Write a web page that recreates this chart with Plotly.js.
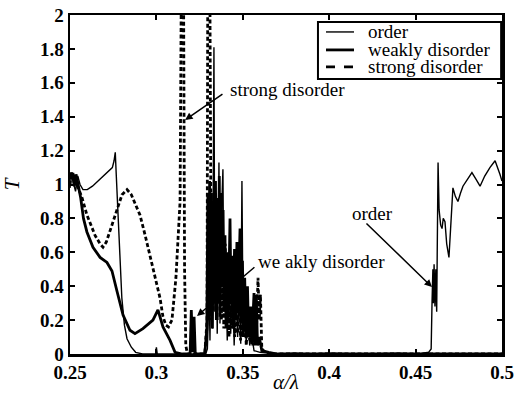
<!DOCTYPE html>
<html><head><meta charset="utf-8">
<script src="https://cdn.plot.ly/plotly-3.0.1.min.js"></script>
<style>html,body{margin:0;padding:0;background:#fff}</style>
</head><body><div id="chart" style="width:518px;height:394px"></div>
<script>
const orderX = [0.25,0.251,0.252,0.2532,0.2545,0.2558,0.2575,0.26,0.263,0.266,0.269,0.272,0.2745,0.2755,0.2762,0.2768,0.2778,0.279,0.28,0.2815,0.283,0.2855,0.288,0.292,0.2995,0.3,0.3005,0.32,0.3285,0.3295,0.3305,0.331,0.3318,0.3325,0.3333,0.3338,0.3345,0.3352,0.3362,0.3368,0.3376,0.3385,0.3391,0.34,0.341,0.342,0.343,0.344,0.345,0.346,0.347,0.348,0.3488,0.3495,0.3502,0.351,0.352,0.353,0.354,0.355,0.3565,0.36,0.37,0.38,0.39,0.4,0.42,0.44,0.452,0.4575,0.459,0.4595,0.46,0.4603,0.4607,0.4612,0.4617,0.4622,0.463,0.4636,0.4645,0.4653,0.466,0.467,0.468,0.4693,0.4705,0.4716,0.473,0.4745,0.476,0.4774,0.48,0.4826,0.485,0.4873,0.49,0.493,0.496,0.4975,0.4988,0.5];
const orderY = [0.98,1.06,1.01,0.96,1.05,1.0,0.97,0.97,0.99,1.02,1.05,1.08,1.1,1.14,1.19,1.05,0.82,0.55,0.33,0.17,0.09,0.04,0.01,0,0,0.04,0,0,0,0.03,0.4,0.08,0.75,0.15,1.81,0.25,0.95,0.12,1.13,0.18,0.8,1.09,0.25,0.62,0.08,0.48,0.12,0.52,0.05,0.38,0.1,0.42,0.06,1.02,0.1,0.3,0.07,0.22,0.05,0.12,0.02,0.01,0,0.005,0,0.005,0,0.005,0,0.01,0.03,0.3,0.5,0.3,0.53,0.28,0.5,0.25,1.13,0.85,0.76,0.74,0.8,0.78,0.65,0.57,0.8,0.98,0.93,0.9,0.95,0.99,1.03,1.07,1.03,0.99,1.05,1.1,1.14,1.1,1.06,1.02];

const weakX = [0.25,0.2508,0.2517,0.2525,0.2535,0.2548,0.2562,0.2578,0.2598,0.2633,0.2674,0.2714,0.2743,0.2772,0.2807,0.2847,0.2876,0.2922,0.298,0.3009,0.3038,0.3079,0.3108,0.315,0.3195,0.3202,0.321,0.3218,0.3225,0.328,0.3292,0.3298,0.3303,0.3308,0.3313,0.3319,0.3324,0.333,0.3336,0.3342,0.3347,0.3353,0.3358,0.3364,0.3369,0.3375,0.338,0.3386,0.3391,0.3397,0.3403,0.341,0.3416,0.3426,0.3432,0.3438,0.3445,0.3452,0.3458,0.3466,0.3472,0.3484,0.349,0.3498,0.3504,0.3511,0.3518,0.3527,0.3534,0.3545,0.3552,0.3565,0.357,0.3578,0.3585,0.3595,0.361,0.365,0.37,0.5];
const weakY = [1.03,1.07,1.05,0.99,1.06,1.0,0.92,0.8,0.72,0.63,0.57,0.54,0.49,0.37,0.23,0.14,0.12,0.15,0.2,0.26,0.16,0.08,0.01,0,0,0.26,0.01,0.22,0,0,0.15,0.95,0.2,1.02,0.35,0.95,0.15,0.9,0.3,1.02,0.2,0.92,0.3,1.05,0.22,0.95,0.4,0.85,0.25,0.7,0.15,0.6,0.2,0.8,0.3,0.58,0.15,0.62,0.2,0.66,0.25,0.74,0.2,0.55,0.15,0.45,0.1,0.4,0.1,0.28,0.06,0.36,0.05,0.35,0.05,0.1,0.02,0.01,0,0];

const strongX = [0.25,0.2505,0.2515,0.253,0.255,0.257,0.2598,0.262,0.2645,0.2674,0.2691,0.271,0.2735,0.276,0.278,0.2801,0.283,0.2855,0.288,0.2905,0.2935,0.2963,0.2992,0.3021,0.3038,0.3055,0.307,0.309,0.3113,0.3137,0.3146,0.3156,0.3163,0.317,0.318,0.328,0.3293,0.3298,0.3308,0.3313,0.3318,0.3323,0.3328,0.3335,0.334,0.3346,0.3352,0.3358,0.3364,0.337,0.3376,0.3383,0.339,0.3398,0.3405,0.3413,0.342,0.343,0.3437,0.3446,0.3453,0.3462,0.347,0.348,0.3487,0.3495,0.3503,0.3512,0.352,0.3532,0.354,0.355,0.3558,0.3568,0.3578,0.3588,0.3595,0.3602,0.361,0.364,0.5];
const strongY = [1.0,1.06,1.07,1.03,0.98,0.92,0.82,0.76,0.7,0.65,0.63,0.66,0.74,0.82,0.88,0.94,0.97,0.94,0.88,0.82,0.7,0.58,0.45,0.33,0.22,0.17,0.16,0.2,0.45,0.9,2.5,2.5,0.5,0.05,0,0,0.2,2.5,2.5,0.6,0.2,0.85,0.25,0.9,0.35,0.8,0.2,0.75,0.3,0.85,0.2,0.7,0.15,0.65,0.2,0.55,0.1,0.5,0.15,0.45,0.1,0.5,0.12,0.4,0.08,0.35,0.1,0.3,0.05,0.25,0.08,0.2,0.05,0.22,0.1,0.45,0.2,0.35,0.03,0,0];

const xTicks = [0.25,0.3,0.35,0.4,0.45,0.5];
const xTickText = ['0.25','0.3','0.35','0.4','0.45','0.5'];
const yTicks = [0,0.2,0.4,0.6,0.8,1,1.2,1.4,1.6,1.8,2];
const yTickText = ['0','0.2','0.4','0.6','0.8','1','1.2','1.4','1.6','1.8','2'];
const seriesNames = ['order','weakly disorder','strong disorder'];

const FONT = '"Liberation Serif", "Times New Roman", serif';
const bold = s => '<b>' + s + '</b>';

const traces = [
  {x: orderX, y: orderY, name: seriesNames[0], mode: 'lines', line: {color: '#000', width: 1.4}, showlegend: false},
  {x: weakX, y: weakY, name: seriesNames[1], mode: 'lines', line: {color: '#000', width: 2.8}, showlegend: false},
  {x: strongX, y: strongY, name: seriesNames[2], mode: 'lines', line: {color: '#000', width: 2.8, dash: '4px,2.5px'}, showlegend: false}
];

// manual legend (plot area paper coords)
const legRows = [0.950, 0.897, 0.847];
const legStyles = [{width: 1.4}, {width: 2.8}, {width: 2.8, dash: 'dash'}];
const shapes = [
  {type: 'rect', xref: 'paper', yref: 'paper', x0: 0.574, x1: 0.998, y0: 0.811, y1: 0.979,
   line: {color: '#000', width: 2}, fillcolor: '#fff', layer: 'above'}
];
const annotations = [];
legRows.forEach((yy, i) => {
  shapes.push({type: 'line', xref: 'paper', yref: 'paper', x0: 0.5926, x1: 0.6574, y0: yy, y1: yy,
    line: Object.assign({color: '#000'}, legStyles[i]), layer: 'above'});
  annotations.push({xref: 'paper', yref: 'paper', x: 0.685, y: yy, xanchor: 'left', yanchor: 'middle',
    text: seriesNames[i], showarrow: false, font: {family: FONT, size: 19, color: '#000'}});
});

// labelled arrows
const arrowDefs = [
  {tx: 0.3166, ty: 1.38, sx: 0.3391, sy: 1.54},
  {tx: 0.3235, ty: 0.224, sx: 0.3576, sy: 0.519},
  {tx: 0.4595, ty: 0.395, sx: 0.4207, sy: 0.779}
];
arrowDefs.forEach(a => {
  annotations.push({x: a.tx, y: a.ty, ax: a.sx, ay: a.sy, axref: 'x', ayref: 'y', xref: 'x', yref: 'y',
    text: '', showarrow: true, arrowhead: 2, arrowsize: 1, arrowwidth: 1.5, arrowcolor: '#000', standoff: 0, startstandoff: 0});
});
const labelDefs = [
  {x: 0.3756, y: 1.563, t: 'strong disorder'},
  {x: 0.3958, y: 0.543, t: 'we akly disorder'},
  {x: 0.4248, y: 0.826, t: 'order'}
];
labelDefs.forEach(l => {
  annotations.push({x: l.x, y: l.y, xref: 'x', yref: 'y', text: l.t, showarrow: false,
    xanchor: 'center', yanchor: 'middle', font: {family: FONT, size: 19, color: '#000'}});
});

const layout = {
  width: 518, height: 394,
  margin: {l: 70, r: 16, t: 15, b: 40},
  paper_bgcolor: '#fff', plot_bgcolor: '#fff',
  showlegend: false,
  font: {family: FONT, color: '#000'},
  xaxis: {
    range: [0.25, 0.5], tickvals: xTicks, ticktext: xTickText.map(bold),
    ticks: 'inside', ticklen: 5, tickwidth: 2, tickcolor: '#000',
    showline: true, linecolor: '#000', linewidth: 2.5, mirror: 'allticks',
    showgrid: false, zeroline: false,
    tickfont: {family: FONT, size: 19, color: '#000'},
    title: {text: '<i>α/λ</i>', font: {family: FONT, size: 21, color: '#000'}, standoff: 2}
  },
  yaxis: {
    range: [0, 2], tickvals: yTicks, ticktext: yTickText.map(bold),
    ticks: 'inside', ticklen: 5, tickwidth: 2, tickcolor: '#000',
    showline: true, linecolor: '#000', linewidth: 2.5, mirror: 'allticks',
    showgrid: false, zeroline: false,
    tickfont: {family: FONT, size: 19, color: '#000'},
    title: {text: '<i>T</i>', font: {family: FONT, size: 21, color: '#000'}, standoff: 15}
  },
  shapes: shapes,
  annotations: annotations
};

Plotly.newPlot('chart', traces, layout, {staticPlot: true, displayModeBar: false});
</script>
</body></html>
